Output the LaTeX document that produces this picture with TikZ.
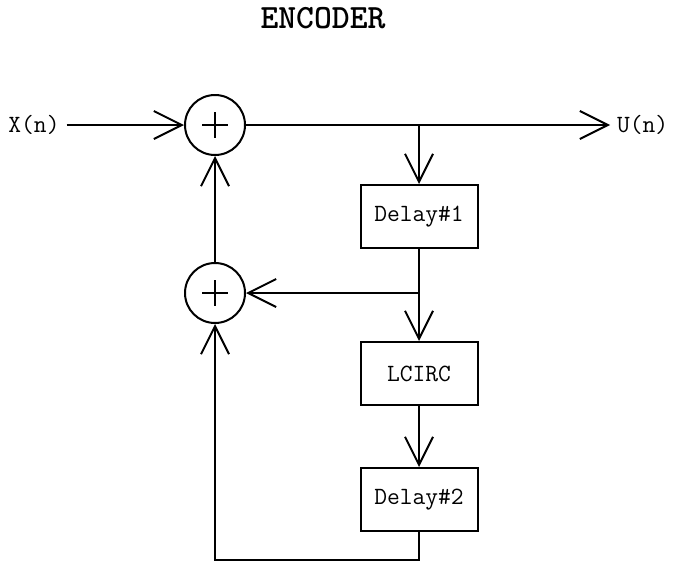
\documentclass[tikz,border=0pt]{standalone}
\usepackage{tikz}
\usetikzlibrary{positioning,arrows.meta}

\begin{document}
\begin{tikzpicture}[
  x=0.5pt, y=-0.5pt,
  font=\ttfamily\fontsize{12.4}{15}\selectfont,
  blk/.style={rectangle, draw, line width=1pt, minimum width=58.5pt, minimum height=31.5pt, inner sep=0pt},
  sum/.style={circle, draw, line width=1pt, minimum size=30pt, inner sep=0pt},
  flow/.style={-{Straight Barb[length=14pt, width=14pt, line width=1pt]}, line width=1pt}
]
\useasboundingbox (0,0) rectangle (679,562);

% Title
\node[font=\ttfamily\bfseries\fontsize{17}{20}\selectfont] (title) at (323,18) {ENCODER};

% Adders
\node[sum] (add1) at (215,125) {};
\node[sum] (add2) at (215,293) {};
\foreach \s in {add1,add2}
  \draw[line width=1pt] (\s.center) ++(-13,0) -- ++(26,0) (\s.center) ++(0,-13) -- ++(0,26);

% Blocks
\node[blk] (delay1) at (419,216.5) {Delay\#1};
\node[blk] (lcirc) at (419,373.5) {LCIRC};
\node[blk] (delay2) at (419,499.5) {Delay\#2};

% Input / output
\node (xin) at (34,125) {X(n)};
\node[anchor=west] (uout) at (610,125) {U(n)};

\coordinate (tap1) at (delay1.north |- add1);
\coordinate (tap2) at (delay1.south |- add2);
\coordinate (turn1) at (419,560);
\coordinate (turn2) at (add2 |- turn1);

\draw[flow] (xin) -- (add1);
\draw[flow] (add1) -- (uout);
\draw[flow] (tap1) -- (delay1);
\draw[flow] (delay1) -- (lcirc);
\draw[flow] (tap2) -- (add2);
\draw[flow] (lcirc) -- (delay2);
\draw[flow] (delay2) -- (turn1) -- (turn2) -- (add2);
\draw[flow] (add2) -- (add1);
\end{tikzpicture}
\end{document}
